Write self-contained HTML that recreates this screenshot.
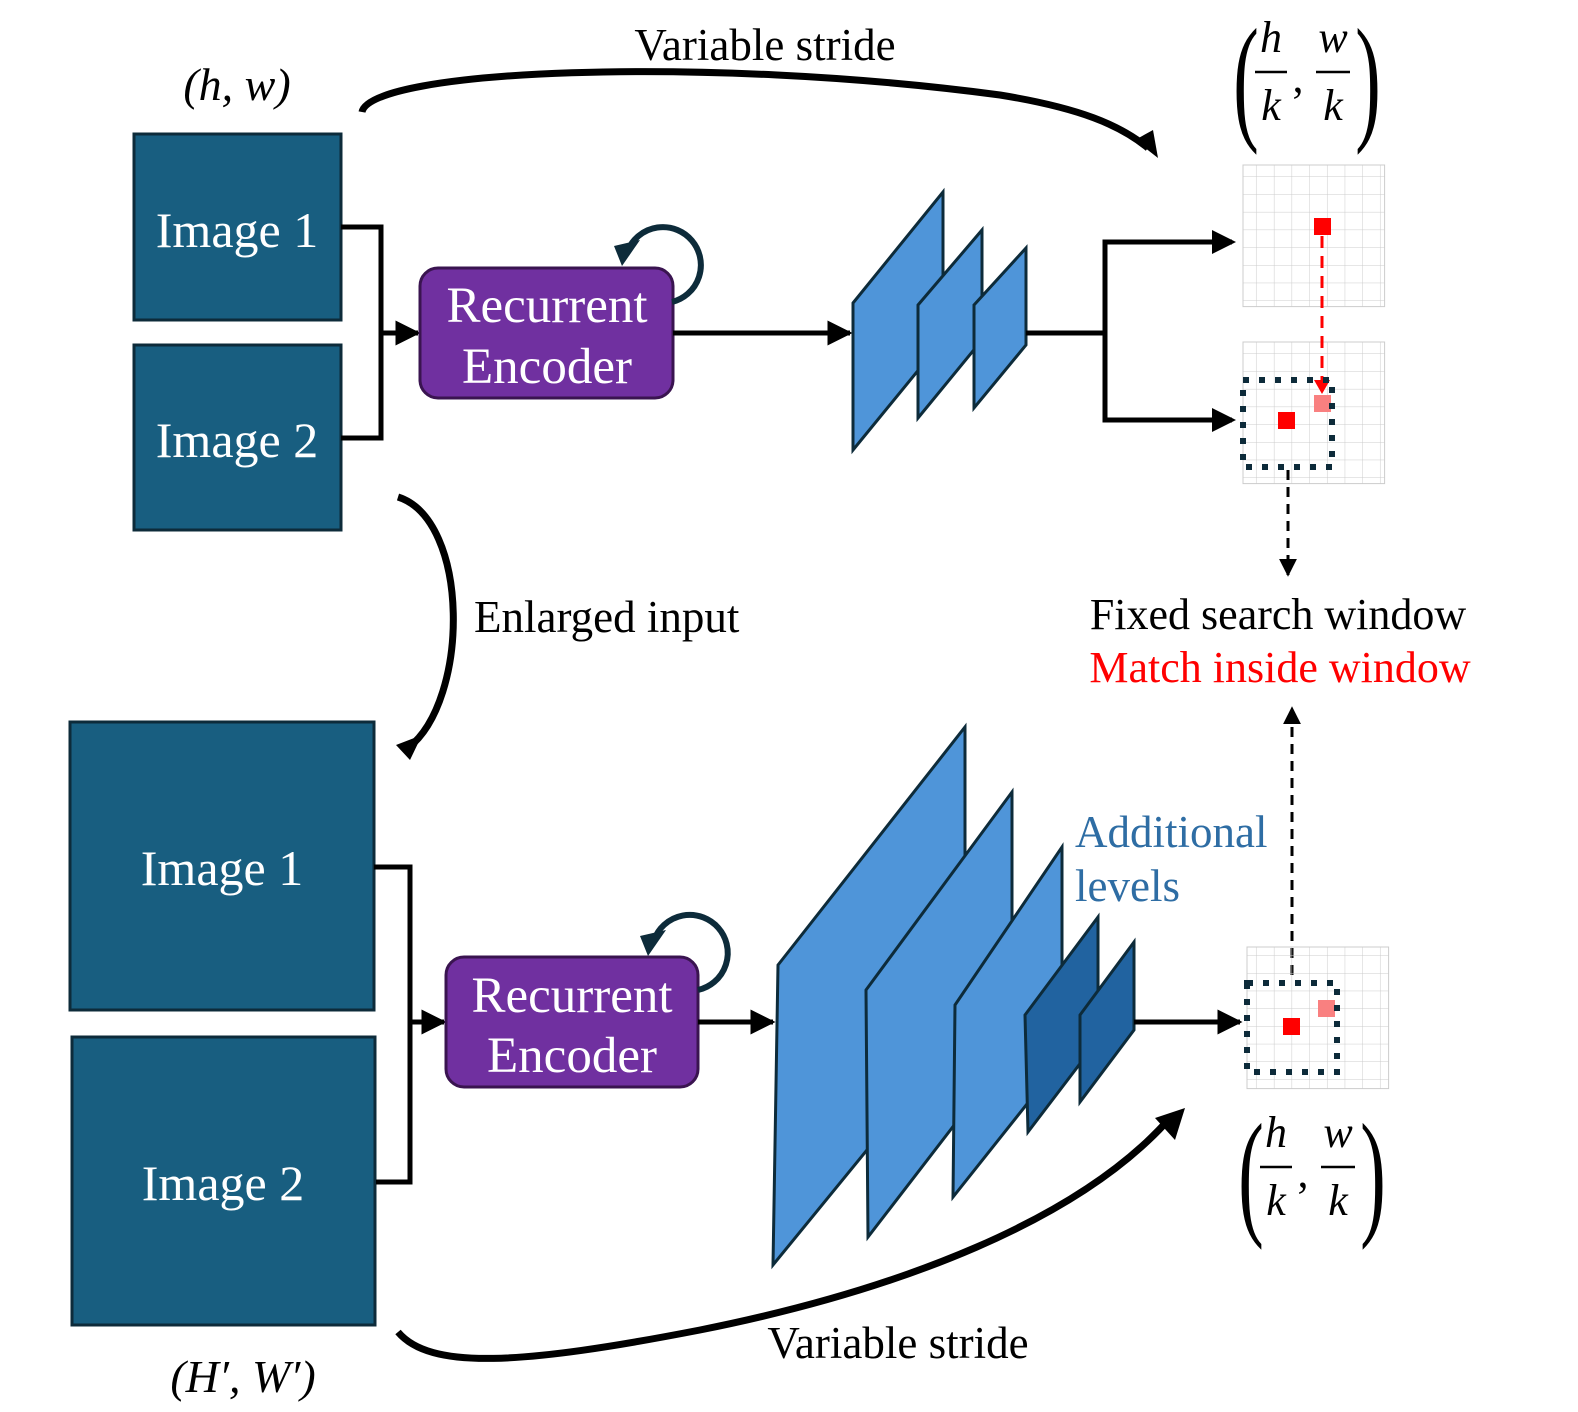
<!DOCTYPE html>
<html><head><meta charset="utf-8"><style>body{margin:0;background:#fff}svg{display:block}text{font-family:"Liberation Serif",serif}</style></head><body>
<svg width="1578" height="1412" viewBox="0 0 1578 1412" xmlns="http://www.w3.org/2000/svg">
<defs>
<marker id="ah" viewBox="0 0 10 10" refX="9" refY="5" markerWidth="5" markerHeight="5" orient="auto"><path d="M0,0L10,5L0,10z" fill="#000"/></marker>
<marker id="ahs" viewBox="0 0 10 10" refX="9" refY="5" markerWidth="6" markerHeight="6" orient="auto"><path d="M0,0L10,5L0,10z" fill="#000"/></marker>
<pattern id="g" width="17.7" height="17.7" patternUnits="userSpaceOnUse"><path d="M17.7 0V17.7H0" fill="none" stroke="#ccc" stroke-width="1"/></pattern>
</defs>

<text x="765" y="60" font-size="45" text-anchor="middle">Variable stride</text>
<text x="237" y="100" font-size="46" text-anchor="middle" font-style="italic">(h, w)</text>
<g font-style="italic" font-size="44" text-anchor="middle">
<text x="1246" y="125" font-size="140" font-style="normal" transform="scale(0.55,1)" transform-origin="1246 80">(</text>
<text x="1368" y="125" font-size="140" font-style="normal" transform="scale(0.55,1)" transform-origin="1368 80">)</text>
<text x="1271" y="52">h</text><line x1="1255" y1="72" x2="1287" y2="72" stroke="#000" stroke-width="2.5"/><text x="1271" y="120">k</text>
<text x="1298" y="92" font-style="normal">,</text>
<text x="1333" y="52">w</text><line x1="1316" y1="72" x2="1350" y2="72" stroke="#000" stroke-width="2.5"/><text x="1333" y="120">k</text>
</g>

<path d="M362,112 C370,70 700,55 1000,95 C1080,108 1120,125 1148,148" fill="none" stroke="#000" stroke-width="7"/>
<path d="M1135,140 L1158,158 L1153,130 Z" fill="#000"/>

<rect x="134" y="134" width="207" height="186" fill="#185e80" stroke="#0d2b3a" stroke-width="3"/>
<rect x="134" y="345" width="207" height="185" fill="#185e80" stroke="#0d2b3a" stroke-width="3"/>
<text x="237" y="247" font-size="50" fill="#fff" text-anchor="middle">Image 1</text>
<text x="237" y="457" font-size="50" fill="#fff" text-anchor="middle">Image 2</text>
<path d="M341,227H381V438H341" fill="none" stroke="#000" stroke-width="5"/>
<line x1="381" y1="333" x2="418" y2="333" stroke="#000" stroke-width="5" marker-end="url(#ah)"/>
<rect x="420" y="268" width="253" height="130" rx="18" fill="#7030a0" stroke="#3a1450" stroke-width="3"/>
<text x="547" y="322" font-size="51" fill="#fff" text-anchor="middle">Recurrent</text>
<text x="547" y="383" font-size="51" fill="#fff" text-anchor="middle">Encoder</text>
<path d="M672,302 A38,38 0 1 0 628,250" fill="none" stroke="#0d2b3a" stroke-width="6"/>
<path d="M614,246 L640,240 L622,266 Z" fill="#0d2b3a"/>
<line x1="673" y1="333" x2="850" y2="333" stroke="#000" stroke-width="5" marker-end="url(#ah)"/>
<g fill="#4f95d9" stroke="#0d2b3a" stroke-width="3">
<path d="M853,303L943,192V340L853,450Z"/>
<path d="M918,305L982,230V340L918,418Z"/>
<path d="M974,305L1026,248V345L974,408Z"/>
</g>
<path d="M1026,333H1105" stroke="#000" stroke-width="5"/>
<path d="M1232,242H1105V420H1232" fill="none" stroke="#000" stroke-width="5"/>
<path d="M1212,230L1236,242L1212,254Z M1212,408L1236,420L1212,432Z" fill="#000"/>

<rect x="1243" y="165" width="141.6" height="141.6" fill="url(#g)" stroke="#ccc"/>
<rect x="1243" y="342" width="141.6" height="141.6" fill="url(#g)" stroke="#ccc"/>
<rect x="1314" y="218" width="17" height="17" fill="#f00"/>
<rect x="1314" y="395" width="17" height="17" fill="#f98080"/>
<rect x="1278" y="412" width="17" height="17" fill="#f00"/>
<line x1="1322" y1="236" x2="1322" y2="390" stroke="#f00" stroke-width="3" stroke-dasharray="12,8"/>
<path d="M1314,380L1330,380L1322,394Z" fill="#f00"/>
<rect x="1243" y="380" width="89" height="87" fill="none" stroke="#0d2b3a" stroke-width="6" stroke-dasharray="6,10"/>
<line x1="1288" y1="470" x2="1288" y2="575" stroke="#000" stroke-width="3" stroke-dasharray="10,7" marker-end="url(#ahs)"/>

<text x="1278" y="629" font-size="44" text-anchor="middle">Fixed search window</text>
<text x="1280" y="682" font-size="44" text-anchor="middle" fill="#f00">Match inside window</text>
<line x1="1292" y1="975" x2="1292" y2="708" stroke="#000" stroke-width="3" stroke-dasharray="10,7" marker-end="url(#ahs)"/>

<path d="M398,497 C470,520 470,700 408,748" fill="none" stroke="#000" stroke-width="7"/>
<path d="M396,745 L422,735 L410,760 Z" fill="#000"/>
<text x="474" y="632" font-size="45">Enlarged input</text>

<rect x="70" y="722" width="304" height="288" fill="#185e80" stroke="#0d2b3a" stroke-width="3"/>
<rect x="72" y="1037" width="303" height="288" fill="#185e80" stroke="#0d2b3a" stroke-width="3"/>
<text x="222" y="885" font-size="50" fill="#fff" text-anchor="middle">Image 1</text>
<text x="223" y="1200" font-size="50" fill="#fff" text-anchor="middle">Image 2</text>
<path d="M374,867H410V1182H376" fill="none" stroke="#000" stroke-width="5"/>
<line x1="410" y1="1022" x2="444" y2="1022" stroke="#000" stroke-width="5" marker-end="url(#ah)"/>
<rect x="446" y="957" width="252" height="130" rx="18" fill="#7030a0" stroke="#3a1450" stroke-width="3"/>
<text x="572" y="1012" font-size="51" fill="#fff" text-anchor="middle">Recurrent</text>
<text x="572" y="1072" font-size="51" fill="#fff" text-anchor="middle">Encoder</text>
<path d="M698,990 A38,38 0 1 0 654,940" fill="none" stroke="#0d2b3a" stroke-width="6"/>
<path d="M640,936 L666,930 L648,956 Z" fill="#0d2b3a"/>
<line x1="698" y1="1022" x2="773" y2="1022" stroke="#000" stroke-width="5" marker-end="url(#ah)"/>
<g stroke="#0d2b3a" stroke-width="3">
<path d="M778,965L965,727V1030L773,1265Z" fill="#4f95d9"/>
<path d="M866,990L1012,792V1050L868,1237Z" fill="#4f95d9"/>
<path d="M955,1005L1062,847V1060L953,1197Z" fill="#4f95d9"/>
<path d="M1025,1015L1098,917V1040L1028,1132Z" fill="#2163a0"/>
<path d="M1080,1015L1134,942V1030L1080,1102Z" fill="#2163a0"/>
</g>
<line x1="1134" y1="1022" x2="1240" y2="1022" stroke="#000" stroke-width="5" marker-end="url(#ah)"/>
<text x="1075" y="847" font-size="45" fill="#2e6da4">Additional</text>
<text x="1075" y="901" font-size="45" fill="#2e6da4">levels</text>

<rect x="1247" y="947" width="141.6" height="141.6" fill="url(#g)" stroke="#ccc"/>
<rect x="1318" y="1000" width="17" height="17" fill="#f98080"/>
<rect x="1283" y="1018" width="17" height="17" fill="#f00"/>
<rect x="1247" y="983" width="90" height="89" fill="none" stroke="#0d2b3a" stroke-width="6" stroke-dasharray="6,10"/>

<g font-style="italic" font-size="44" text-anchor="middle">
<text x="1251" y="1220" font-size="140" font-style="normal" transform="scale(0.55,1)" transform-origin="1251 1175">(</text>
<text x="1373" y="1220" font-size="140" font-style="normal" transform="scale(0.55,1)" transform-origin="1373 1175">)</text>
<text x="1276" y="1147">h</text><line x1="1260" y1="1167" x2="1292" y2="1167" stroke="#000" stroke-width="2.5"/><text x="1276" y="1215">k</text>
<text x="1303" y="1187" font-style="normal">,</text>
<text x="1338" y="1147">w</text><line x1="1321" y1="1167" x2="1355" y2="1167" stroke="#000" stroke-width="2.5"/><text x="1338" y="1215">k</text>
</g>

<path d="M398,1332 C430,1370 520,1365 700,1330 C900,1290 1080,1220 1170,1118" fill="none" stroke="#000" stroke-width="7"/>
<path d="M1155,1118 L1185,1108 L1175,1140 Z" fill="#000"/>
<text x="898" y="1358" font-size="45" text-anchor="middle">Variable stride</text>
<text x="243" y="1392" font-size="46" text-anchor="middle" font-style="italic">(H′, W′)</text>
</svg>
</body></html>
